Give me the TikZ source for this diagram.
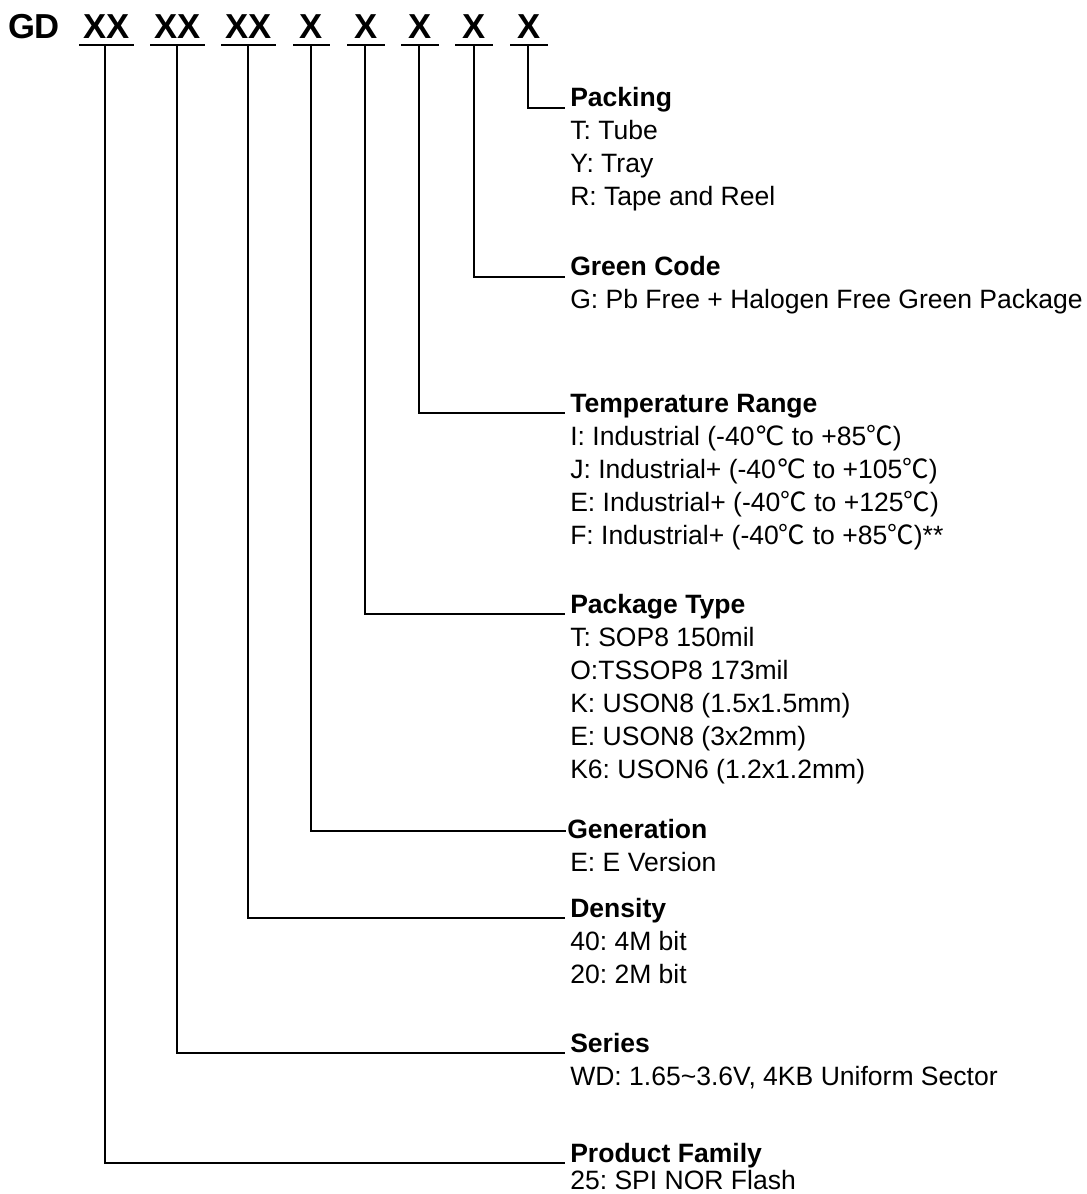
\documentclass[tikz,border=0pt]{standalone}
\usepackage{fontspec}
\setmainfont{Liberation Sans}
\newfontfamily\cjkf{Noto Sans CJK SC}
\newfontfamily\djvf{DejaVu Sans}
\newcommand{\degA}{{\djvf ℃}}
\newcommand{\degB}{{\cjkf ℃}}
\frenchspacing
\begin{document}
\begin{tikzpicture}[x=0.75pt,y=-0.75pt,
  hdr/.style={anchor=base, inner sep=0pt, font=\bfseries\fontsize{26}{32}\selectfont},
  uline/.style={line width=1.6pt},
  conn/.style={line width=1.3pt},
  head/.style={anchor=base west, inner sep=0pt, font=\bfseries\fontsize{19.9}{24}\selectfont},
  row/.style={anchor=base west, inner sep=0pt, font=\fontsize{19.9}{24}\selectfont}]
\useasboundingbox (0,0) rectangle (1087,1194);
% header
\node[hdr] (gd) at (34,38.5) {GD};
\node[hdr] (h1) at (106.5,38.5) {XX};
\node[hdr] (h2) at (177.5,38.5) {XX};
\node[hdr] (h3) at (248.5,38.5) {XX};
\node[hdr] (h4) at (311.5,38.5) {X};
\node[hdr] (h5) at (366,38.5) {X};
\node[hdr] (h6) at (420,38.5) {X};
\node[hdr] (h7) at (474,38.5) {X};
\node[hdr] (h8) at (529,38.5) {X};
\draw[uline] (79,45) -- (134,45);
\draw[uline] (150,45) -- (205,45);
\draw[uline] (221,45) -- (276,45);
\draw[uline] (293,45) -- (330,45);
\draw[uline] (347,45) -- (385,45);
\draw[uline] (401,45) -- (439,45);
\draw[uline] (455,45) -- (493,45);
\draw[uline] (510,45) -- (548,45);
\coordinate (u1) at (105,45);
\coordinate (u2) at (177,45);
\coordinate (u3) at (248,45);
\coordinate (u4) at (311,45);
\coordinate (u5) at (365,45);
\coordinate (u6) at (419,45);
\coordinate (u7) at (474,45);
\coordinate (u8) at (528,45);
% Packing
\node[head] (pk) at (570,107) {Packing};
\node[row] (pk1) at (570,140) {T: Tube};
\node[row] (pk2) at (570,173) {Y: Tray};
\node[row] (pk3) at (570,206) {R: Tape and Reel};
% Green code
\node[head] (gc) at (570,276) {Green Code};
\node[row] (gc1) at (570,309) {G: Pb Free + Halogen Free Green Package};
% Temperature
\node[head] (tr) at (570,412) {Temperature Range};
\node[row] (tr1) at (570,445) {I: Industrial (-40\degA{} to +85\degB)};
\node[row] (tr2) at (570,478) {J: Industrial+ (-40\degA{} to +105\degB)};
\node[row] (tr3) at (570,511) {E: Industrial+ (-40\degB{} to +125\degB)};
\node[row] (tr4) at (570,544) {F: Industrial+ (-40\degB{} to +85\degB)**};
% Package type
\node[head] (pt) at (570,613) {Package Type};
\node[row] (pt1) at (570,646) {T: SOP8 150mil};
\node[row] (pt2) at (570,679) {O:TSSOP8 173mil};
\node[row] (pt3) at (570,712) {K: USON8 (1.5x1.5mm)};
\node[row] (pt4) at (570,745) {E: USON8 (3x2mm)};
\node[row] (pt5) at (570,778) {K6: USON6 (1.2x1.2mm)};
% Generation
\node[head] (gn) at (567,838) {Generation};
\node[row] (gn1) at (570,871) {E: E Version};
% Density
\node[head] (dn) at (570,917) {Density};
\node[row] (dn1) at (570,950) {40: 4M bit};
\node[row] (dn2) at (570,983) {20: 2M bit};
% Series
\node[head] (sr) at (570,1052) {Series};
\node[row] (sr1) at (570,1085) {WD: 1.65\textasciitilde 3.6V, 4KB Uniform Sector};
% Product family
\node[head] (pf) at (570,1162) {Product Family};
\node[row] (pf1) at (570,1189) {25: SPI NOR Flash};
% connectors
\draw[conn] (u8) |- ([xshift=-3.75pt,yshift=-0.75pt]pk.base west);
\draw[conn] (u7) |- ([xshift=-3.75pt,yshift=-0.75pt]gc.base west);
\draw[conn] (u6) |- ([xshift=-3.75pt,yshift=-0.75pt]tr.base west);
\draw[conn] (u5) |- ([xshift=-3.75pt,yshift=-0.75pt]pt.base west);
\draw[conn] (u4) |- ([xshift=-1pt,yshift=5pt]gn.base west);
\draw[conn] (u3) |- ([xshift=-3.75pt,yshift=-0.75pt]dn.base west);
\draw[conn] (u2) |- ([xshift=-3.75pt,yshift=-0.75pt]sr.base west);
\draw[conn] (u1) |- ([xshift=-3.75pt,yshift=-0.75pt]pf.base west);
\end{tikzpicture}
\end{document}
